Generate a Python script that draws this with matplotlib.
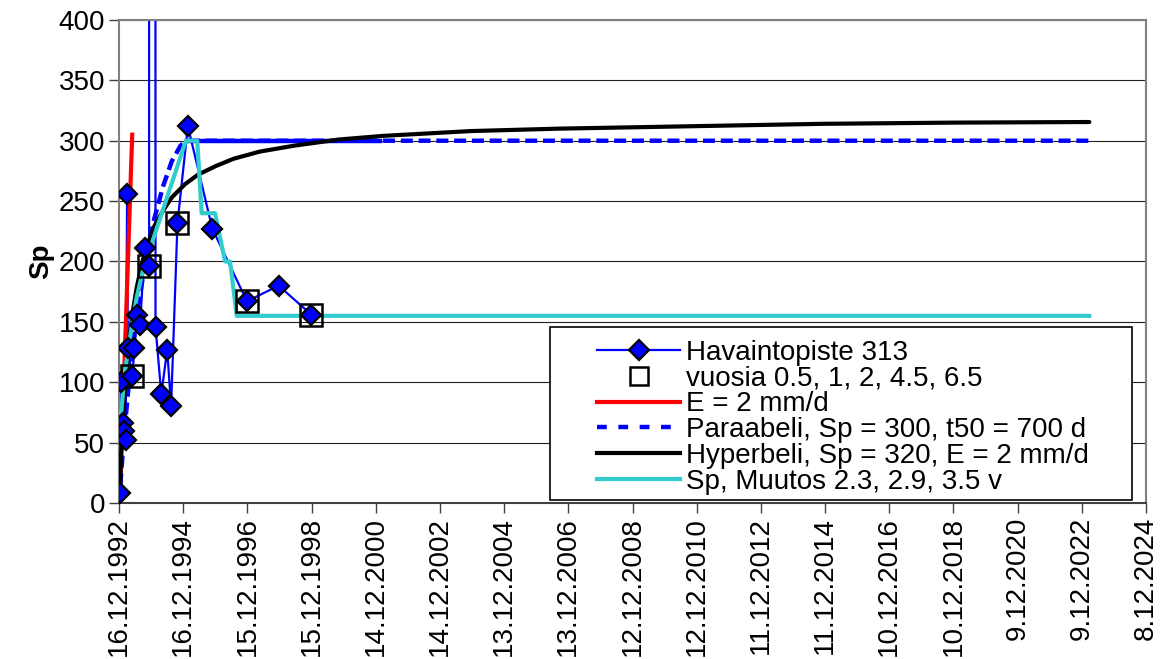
import matplotlib
matplotlib.use("Agg")
import matplotlib.pyplot as plt
from matplotlib.lines import Line2D
from matplotlib.patches import Rectangle

plt.rcParams['font.family'] = ['Liberation Sans', 'DejaVu Sans']
plt.rcParams['font.size'] = 20

# x = days from 16.12.1992
tick_days = [0, 730, 1460, 2190, 2920, 3650, 4380, 5110, 5840, 6570, 7300,
             8030, 8760, 9490, 10220, 10950, 11680]
tick_labels = ['16.12.1992', '16.12.1994', '15.12.1996', '15.12.1998', '14.12.2000',
               '14.12.2002', '13.12.2004', '13.12.2006', '12.12.2008', '12.12.2010',
               '11.12.2012', '11.12.2014', '10.12.2016', '10.12.2018', '9.12.2020',
               '9.12.2022', '8.12.2024']

# Havaintopiste 313 (two readings go far above the plot)
obs_days = [12, 22, 42, 55, 75, 92, 100, 152, 175, 208, 240, 290, 342, 344, 405, 415,
            481, 548, 592, 665, 783, 1062, 1455, 1815, 2187]
obs_sp = [8, 100, 66, 60, 52, 256, 128, 105, 128, 156, 147, 211, 196, 5000, 5000, 146,
          90, 127, 80, 232, 312, 227, 167, 180, 156]

# vuosia 0.5, 1, 2, 4.5, 6.5
yr_days = [152, 342, 665, 1455, 2187]
yr_sp = [105, 196, 232, 167, 156]

# E = 2 mm/d
e_days = [12, 150]
e_sp = [8, 305]

# Paraabeli, Sp = 300, t50 = 700 d
par_days = [0, 50, 100, 150, 200, 300, 400, 500, 600, 700, 775, 1500, 2200, 2968,
            4000, 5500, 7000, 8500, 10000, 11040]
par_sp = [0, 50, 90, 125, 155, 200, 235, 262, 283, 296, 300, 300, 300, 300,
          300, 300, 300, 300, 300, 300]

# Hyperbeli, Sp = 320, E = 2 mm/d
hyp_days = [12, 20, 40, 60, 90, 120, 160, 200, 250, 300, 400, 500, 600, 750, 900,
            1100, 1300, 1600, 2000, 2500, 3000, 4000, 5000, 6500, 8000, 9500, 11035]
hyp_sp = [8, 36, 64, 87, 115, 137, 160, 178, 195, 209, 229, 242, 253, 264, 272,
          279, 285, 291, 296, 301, 304, 308, 310, 312, 314, 315, 315.5]

# Sp, Muutos 2.3, 2.9, 3.5 v
muu_days = [20, 60, 120, 200, 280, 350, 760, 890, 940, 1092, 1206, 1263, 1339, 11035]
muu_sp = [70, 105, 135, 170, 195, 210, 300, 300, 240, 240, 200, 200, 155, 155]

fig = plt.figure(figsize=(11.68, 6.59), dpi=100)
ax = fig.add_axes([0.1019, 0.2367, 0.8793, 0.733])

ax.plot(obs_days, obs_sp, '-', color='#0000FF', lw=1.6, zorder=2)
ax.plot(e_days, e_sp, '-', color='#FF0000', lw=3, zorder=3)
ax.plot(par_days, par_sp, color='#0000FF', lw=3.2, dashes=(2.7, 1.3), zorder=3)
# the dense part of the parabola series draws as a solid line
ax.plot(par_days[10:14], par_sp[10:14], '-', color='#0000FF', lw=3.2, zorder=3)
ax.plot(hyp_days, hyp_sp, '-', color='black', lw=3, zorder=4, solid_capstyle='round')
ax.plot(muu_days, muu_sp, '-', color='#33CCCC', lw=3, zorder=4)
ax.plot(yr_days, yr_sp, 's', ms=16, mfc='none', mec='black', mew=1.8, zorder=5)
ax.plot(obs_days, obs_sp, 'D', ms=10.5, mfc='#0000FF', mec='black', mew=1.6, zorder=6)

ax.set_xlim(0, 11680)
ax.set_ylim(0, 400)
ax.set_yticks(range(0, 401, 50))
ax.set_xticks(tick_days)
ax.set_xticklabels(tick_labels, rotation=90)
ax.tick_params(direction='out', length=7, width=1, color='#404040', pad=3)
ax.yaxis.grid(True, color='#202020', lw=0.8)
ax.set_axisbelow(True)
for side in ['left', 'right', 'top']:
    ax.spines[side].set_color('#808080')
    ax.spines[side].set_linewidth(1.5)
ax.spines['bottom'].set_color('#404040')
ax.spines['bottom'].set_linewidth(1.5)
ax.set_ylabel('Sp', fontweight='bold', labelpad=3)

# legend box
box = Rectangle((0.4197, 0.006), 0.5667, 0.358, transform=ax.transAxes,
                facecolor='white', edgecolor='black', lw=1.2, zorder=7)
ax.add_patch(box)
handles = [
    Line2D([], [], color='#0000FF', lw=1.6, marker='D', ms=10.5, mfc='#0000FF', mec='black', mew=1.6),
    Line2D([], [], ls='none', marker='s', ms=13, mfc='none', mec='black', mew=1.8),
    Line2D([], [], color='#FF0000', lw=3),
    Line2D([], [], color='#0000FF', lw=3.2, dashes=(2.2, 2.6)),
    Line2D([], [], color='black', lw=3),
    Line2D([], [], color='#33CCCC', lw=3),
]
labels = ['Havaintopiste 313', 'vuosia 0.5, 1, 2, 4.5, 6.5', 'E = 2 mm/d',
          'Paraabeli, Sp = 300, t50 = 700 d', 'Hyperbeli, Sp = 320, E = 2 mm/d',
          'Sp, Muutos 2.3, 2.9, 3.5 v']
leg = ax.legend(handles, labels, loc='upper left', bbox_to_anchor=(0.46, 0.349),
                frameon=False, handlelength=3.0, handletextpad=0.2, labelspacing=-0.01,
                borderpad=0.2, borderaxespad=0)
leg.set_zorder(8)

fig.savefig('out.png', dpi=100)
